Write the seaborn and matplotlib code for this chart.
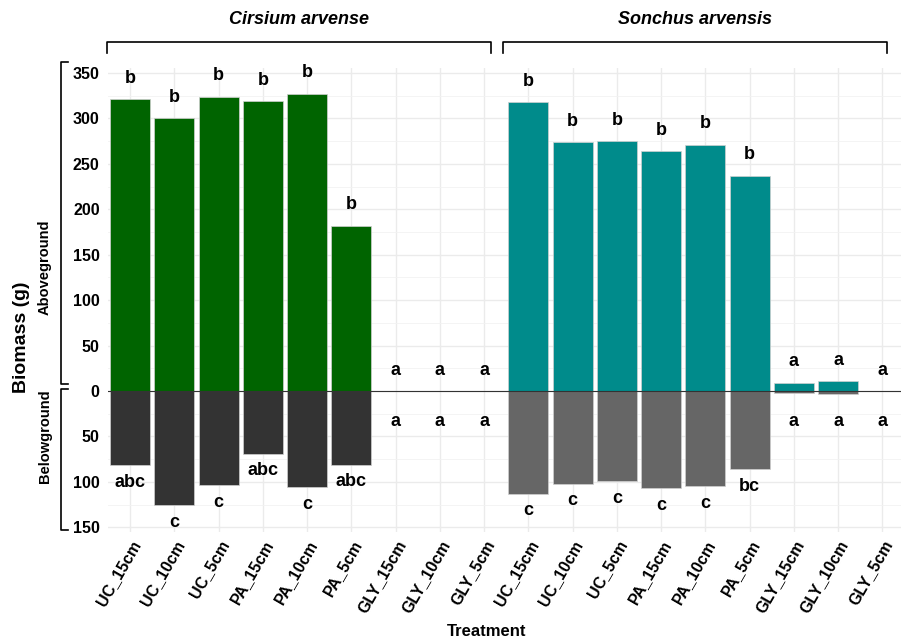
import matplotlib
matplotlib.use("Agg")
import matplotlib.pyplot as plt
import seaborn as sns
import pandas as pd
from matplotlib.lines import Line2D
from matplotlib.ticker import MultipleLocator

# data
species = ["Cirsium arvense", "Sonchus arvensis"]
treatments = ["UC_15cm", "UC_10cm", "UC_5cm", "PA_15cm", "PA_10cm", "PA_5cm",
              "GLY_15cm", "GLY_10cm", "GLY_5cm"]
cirsium_above = [321, 300, 324, 319, 327, 182, 0, 0, 0]
cirsium_below = [82, 126, 104, 69, 106, 81, 0, 0, 0]
sonchus_above = [318, 274, 275, 264, 271, 237, 9, 11, 0]
sonchus_below = [113, 102, 99, 107, 105, 86, 2.5, 3.3, 0]
cirsium_above_letters = ["b", "b", "b", "b", "b", "b", "a", "a", "a"]
cirsium_below_letters = ["abc", "c", "c", "abc", "c", "abc", "a", "a", "a"]
sonchus_above_letters = ["b", "b", "b", "b", "b", "b", "a", "a", "a"]
sonchus_below_letters = ["c", "c", "c", "c", "c", "bc", "a", "a", "a"]

above_pal = {"Cirsium arvense": "#006400", "Sonchus arvensis": "#008B8B"}
below_pal = {"Cirsium arvense": "#333333", "Sonchus arvensis": "#666666"}

rows = []
for sp, ab, be, la, lb in [(species[0], cirsium_above, cirsium_below, cirsium_above_letters, cirsium_below_letters),
                           (species[1], sonchus_above, sonchus_below, sonchus_above_letters, sonchus_below_letters)]:
    for t, a, b, l1, l2 in zip(treatments, ab, be, la, lb):
        rows.append({"slot": sp + "|" + t, "species": sp, "treatment": t,
                     "above": a, "below": -b, "lab_a": l1, "lab_b": l2})
df = pd.DataFrame(rows)
slots = list(df["slot"])

W, H = 901, 638
def fx(px): return px / W
def fy(py): return 1 - py / H

fig = plt.figure(figsize=(W / 100, H / 100), dpi=100)
plt.rcParams["font.family"] = ["Liberation Sans", "DejaVu Sans"]
ax = fig.add_axes([fx(108), fy(531.8), fx(901) - fx(108), (531.8 - 68.4) / H])

sns.barplot(data=df, x="slot", y="above", hue="species", order=slots, palette=above_pal,
            dodge=False, width=0.9, saturation=1, edgecolor="#d0d0d0", linewidth=0.5,
            legend=False, ax=ax)
sns.barplot(data=df, x="slot", y="below", hue="species", order=slots, palette=below_pal,
            dodge=False, width=0.9, saturation=1, edgecolor="#d0d0d0", linewidth=0.5,
            legend=False, ax=ax)

ax.axhline(0, color="#333333", lw=0.8, zorder=3)

for i, r in df.iterrows():
    ax.text(i, max(r["above"], 0) + 23, r["lab_a"], ha="center", va="center",
            fontsize=13, fontweight="bold", color="black")
    ax.text(i, -(max(-r["below"], 15) + 19), r["lab_b"], ha="center", va="center",
            fontsize=13, fontweight="bold", color="black")

ax.set_xlim(-0.5, 17.42)
ax.set_ylim(-155, 355)
yt = [-150, -100, -50, 0, 50, 100, 150, 200, 250, 300, 350]
ax.set_yticks(yt)
ax.set_yticklabels([str(abs(v)) for v in yt])
ax.yaxis.set_minor_locator(MultipleLocator(25))
ax.set_xticks(range(len(slots)))
ax.set_xticklabels(list(df["treatment"]), rotation=60, ha="right", rotation_mode="anchor")
for lab in ax.get_xticklabels() + ax.get_yticklabels():
    lab.set_fontweight("bold")
    lab.set_fontsize(11.5)
    lab.set_color("black")
ax.tick_params(axis="both", which="both", length=0)
ax.tick_params(axis="y", pad=6)
ax.tick_params(axis="x", pad=4)
ax.set_axisbelow(True)
ax.grid(which="major", color="#ebebeb", lw=1.0)
ax.grid(which="minor", axis="y", color="#f2f2f2", lw=0.6)
for s in ax.spines.values():
    s.set_visible(False)
ax.set_xlabel("")
ax.set_ylabel("")

# axis titles
fig.text(fx(487), fy(632), "Treatment", ha="center", va="center", fontsize=12, fontweight="bold")
fig.text(fx(22), fy(337), "Biomass (g)", ha="center", va="center", rotation=90,
         fontsize=14, fontweight="bold")
fig.text(fx(45), fy(267), "Aboveground", ha="center", va="center", rotation=90,
         fontsize=10.5, fontweight="bold")
fig.text(fx(45), fy(436), "Belowground", ha="center", va="center", rotation=90,
         fontsize=10.5, fontweight="bold")

# species brackets on top
for x0, x1, name in [(107, 491, species[0]), (503, 887, species[1])]:
    fig.add_artist(Line2D([fx(x0), fx(x0), fx(x1), fx(x1)], [fy(53), fy(42), fy(42), fy(53)],
                          transform=fig.transFigure, color="black", lw=1.2))
    fig.text(fx((x0 + x1) / 2), fy(20), name, ha="center", va="center", fontsize=13,
             fontweight="bold", fontstyle="italic")

# left brackets
for y0, y1 in [(62, 384), (389, 530)]:
    fig.add_artist(Line2D([fx(68), fx(61), fx(61), fx(68)], [fy(y0), fy(y0), fy(y1), fy(y1)],
                          transform=fig.transFigure, color="black", lw=1.2))

fig.savefig("out.png", dpi=100)
